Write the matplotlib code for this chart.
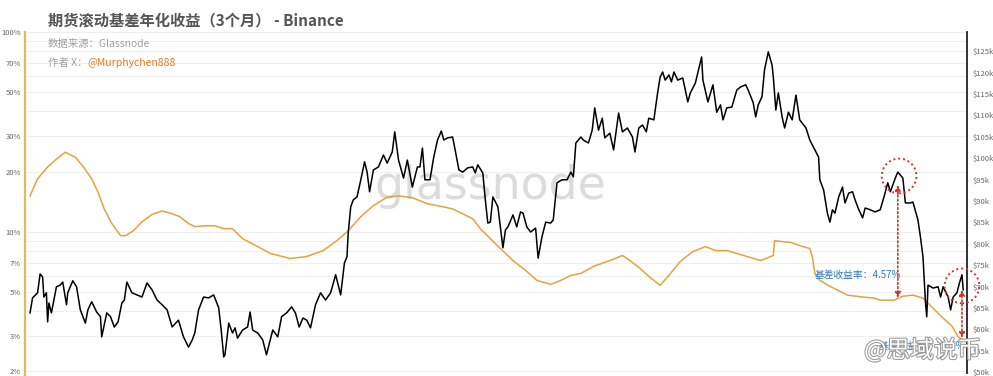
import matplotlib
matplotlib.use("Agg")
from matplotlib import pyplot as plt
from matplotlib import patheffects
from matplotlib.ticker import FixedLocator, NullFormatter
import numpy as np
import pandas as pd

plt.rcParams['font.family'] = ['Noto Sans CJK SC', 'DejaVu Sans']

start_date = pd.Timestamp('2024-02-27')

# BTC price (k USD), day offset from start_date
price_day = [0, 2, 6, 8, 10, 11, 13, 14, 15, 17, 21, 24, 26, 29, 30, 34, 37, 40, 44, 46,
             49, 53, 56, 57, 61, 64, 67, 70, 73, 75, 77, 81, 85, 89, 93, 97, 101, 105, 109, 113,
             118, 122, 126, 129, 131, 134, 138, 142, 146, 150, 152, 154, 155, 158, 161, 163, 165, 169, 173, 175,
             177, 181, 185, 188, 191, 193, 197, 200, 204, 208, 211, 214, 217, 220, 223, 227, 231, 235, 239, 243,
             247, 250, 252, 253, 255, 257, 260, 263, 266, 268, 270, 273, 277, 281, 284, 288, 290, 293, 297, 300,
             304, 308, 310, 312, 314, 318, 321, 324, 327, 329, 332, 336, 338, 341, 344, 348, 352, 354, 356, 360,
             362, 364, 366, 368, 372, 374, 376, 378, 380, 384, 387, 390, 392, 395, 398, 402, 404, 407, 410, 414,
             416, 419, 423, 427, 430, 432, 434, 438, 440, 444, 447, 449, 452, 455, 457, 461, 464, 468, 471, 475,
             479, 481, 484, 487, 490, 492, 496, 499, 501, 503, 505, 508, 510, 512, 515, 519, 523, 525, 529, 531,
             534, 535, 539, 543, 546, 549, 551, 554, 558, 562, 565, 569, 571, 575, 577, 579, 582, 584, 587, 590,
             591, 593, 595, 598, 600, 603, 606, 609, 612, 617, 620, 624, 627, 628, 631, 634, 636, 638, 640, 643,
             646, 648, 651, 654, 656, 659, 662, 664, 668, 672, 676, 679, 682, 684, 688, 690, 694, 696, 700, 702,
             706, 708, 710, 712, 713, 714, 718, 722, 724, 726, 730, 732, 734, 737, 739, 741, 742]
price_k = [63.8, 67.3, 68.5, 72.9, 72.2, 67.5, 68.5, 61.7, 66.1, 63.8, 69.9, 70.3, 71.0, 65.7, 68.5, 71.3, 69.9, 64.5, 61.4, 64.5,
           66.4, 64.0, 62.9, 58.2, 63.8, 62.9, 60.5, 61.7, 66.1, 66.8, 71.0, 68.5, 68.0, 67.5, 70.8, 69.2, 66.8, 65.7, 64.5, 60.5,
           62.1, 58.2, 55.8, 57.5, 59.1, 64.5, 67.5, 67.3, 68.0, 65.0, 59.8, 53.5, 54.0, 61.4, 59.1, 60.3, 57.9, 59.8, 60.5, 64.0,
           59.8, 59.1, 57.5, 54.0, 57.5, 59.8, 58.2, 62.9, 63.8, 65.2, 63.8, 60.5, 62.6, 62.1, 60.3, 65.7, 68.5, 66.8, 68.5, 72.7,
           68.0, 75.5, 76.9, 82.5, 88.6, 90.2, 90.9, 94.9, 99.1, 96.7, 92.1, 97.2, 97.9, 100.7, 98.8, 101.4, 106.1, 99.5, 95.3, 99.5,
           93.2, 97.9, 97.9, 102.3, 94.9, 94.9, 100.2, 104.2, 106.3, 104.2, 104.7, 104.9, 101.9, 97.2, 96.7, 97.7, 97.9, 96.5, 98.4, 96.5,
           90.2, 84.8, 85.0, 90.9, 88.6, 83.9, 79.0, 83.2, 83.9, 86.7, 83.9, 87.4, 87.1, 83.9, 82.7, 83.6, 76.6, 81.5, 85.0, 84.8,
           85.5, 94.2, 94.9, 94.9, 96.7, 95.6, 103.5, 104.9, 104.2, 103.5, 106.5, 111.7, 106.5, 109.3, 104.7, 105.8, 101.9, 110.5, 106.1, 107.0,
           104.9, 101.4, 107.0, 107.7, 106.1, 109.3, 108.9, 115.2, 118.9, 120.1, 118.2, 119.4, 117.8, 120.1, 118.2, 118.7, 113.1, 115.2, 117.5, 119.9,
           123.6, 118.2, 113.1, 117.1, 110.7, 112.4, 108.9, 111.7, 111.9, 115.9, 116.6, 117.1, 115.9, 112.9, 109.6, 112.4, 114.3, 120.6, 124.8, 121.7,
           118.9, 111.2, 115.2, 109.6, 107.0, 110.7, 108.9, 114.7, 108.9, 107.0, 104.2, 101.9, 100.2, 94.9, 92.5, 87.1, 85.0, 87.9, 87.1, 90.9,
           93.2, 89.5, 91.8, 92.1, 90.2, 87.9, 86.0, 88.3, 87.9, 87.4, 87.9, 90.9, 94.2, 92.1, 95.3, 96.7, 95.3, 89.5, 89.5, 89.7,
           85.5, 81.5, 76.9, 66.1, 62.9, 70.3, 69.6, 69.9, 67.5, 69.9, 67.5, 64.5, 67.5, 68.5, 70.8, 72.7, 69.2]

# 3-month rolling basis, annualised (%)
basis_day = [0, 6, 14, 21, 28, 36, 42, 49, 54, 59, 65, 72, 76, 82, 89, 97, 105, 113, 119, 126,
             131, 139, 147, 154, 161, 169, 181, 191, 207, 220, 233, 244, 253, 263, 273, 284, 293, 304, 316, 329,
             336, 344, 352, 358, 366, 374, 384, 395, 403, 414, 422, 430, 438, 448, 461, 471, 477, 485, 492, 497,
             501, 508, 517, 527, 537, 545, 554, 562, 570, 581, 587, 591, 592, 598, 605, 612, 620, 622, 624, 628,
             636, 650, 663, 671, 676, 687, 694, 702, 710, 718, 726, 733, 738, 741]
basis_pct = [15.1, 18.4, 21.1, 23.1, 25.0, 23.6, 21.3, 18.4, 15.8, 13.0, 11.0, 9.55, 9.55, 10.1, 11.2, 12.2, 12.7, 12.3, 11.9, 11.0,
             10.6, 10.7, 10.7, 10.35, 10.35, 9.23, 8.42, 7.78, 7.34, 7.51, 8.04, 9.02, 10.1, 11.9, 13.5, 14.9, 15.1, 14.8, 13.8, 13.3,
             13.0, 12.3, 11.6, 10.35, 9.23, 8.23, 7.17, 6.32, 5.70, 5.45, 5.70, 6.04, 6.18, 6.70, 7.17, 7.60, 7.17, 6.55, 5.97, 5.64,
             5.39, 6.04, 7.09, 7.95, 8.42, 8.04, 8.04, 7.78, 7.51, 7.17, 7.43, 7.60, 9.02, 8.92, 8.82, 8.52, 8.23, 7.51, 6.18, 5.70,
             5.33, 4.81, 4.70, 4.65, 4.54, 4.54, 4.75, 4.81, 4.65, 4.14, 3.69, 3.37, 2.97, 2.90]

left_ticks = [2, 3, 5, 7, 10, 20, 30, 50, 70, 100]
right_ticks = list(range(50, 130, 5))

price_dates = start_date + pd.to_timedelta(price_day, unit='D')
basis_dates = start_date + pd.to_timedelta(basis_day, unit='D')

fig = plt.figure(figsize=(9.93, 3.76), dpi=100)
ax = fig.add_axes([25 / 993, 3 / 376, 942 / 993, 341 / 376])
ax2 = ax.twinx()

# basis line (log, left)
ax.plot(basis_dates, basis_pct, color='#e8a13c', lw=1.1, zorder=3)
ax.set_yscale('log')
ax.set_ylim(1.96, 100)
ax.yaxis.set_major_locator(FixedLocator(left_ticks))
ax.set_yticklabels([f'{t}%' for t in left_ticks])
ax.yaxis.set_minor_locator(FixedLocator([2, 3, 4, 5, 6, 7, 8, 9, 10, 20, 30, 40, 50, 60, 70, 80, 90]))
ax.yaxis.set_minor_formatter(NullFormatter())
ax.grid(True, which='both', axis='y', color='#efefef', lw=0.8)
ax.set_axisbelow(True)
ax.set_xlim(start_date - pd.Timedelta(days=4), start_date + pd.Timedelta(days=745))
ax.set_xticks([])
ax.tick_params(axis='y', which='both', length=0, labelsize=5.5, labelcolor='#666666', pad=3)

ax.text(0.494, 0.547, 'glassnode', transform=ax.transAxes, fontsize=33, color='#dcdcdc',
        family='DejaVu Sans', ha='center', va='center', zorder=1)

# BTC price (right)
ax2.plot(price_dates, price_k, color='black', lw=1.1, zorder=3)
ax2.set_ylim(49.75, 129.44)
ax2.set_yticks(right_ticks)
ax2.set_yticklabels([f'${t}k' for t in right_ticks])
ax2.tick_params(axis='y', length=0, labelsize=5.5, labelcolor='#666666', pad=4)

for a in (ax, ax2):
    for side in ('top', 'bottom', 'left', 'right'):
        a.spines[side].set_visible(False)
ax.spines['left'].set_visible(True)
ax.spines['left'].set_color('#e8b560')
ax.spines['left'].set_linewidth(1.6)
ax.spines['left'].set_bounds(1.85, 100)
ax2.spines['right'].set_visible(True)
ax2.spines['right'].set_color('#222222')
ax2.spines['right'].set_linewidth(1.3)

# annotations
red = '#d2332b'
arrow = dict(arrowstyle='<|-|>', color=red, lw=1.2, linestyle=(0, (1, 1.5)),
             mutation_scale=8, shrinkA=0, shrinkB=0)
d1 = start_date + pd.Timedelta(days=690)
d2 = start_date + pd.Timedelta(days=741)
ax2.annotate('', xy=(d1, 67.3), xytext=(d1, 93.7), arrowprops=arrow)
ax2.annotate('', xy=(d2, 57.9), xytext=(d2, 69.2), arrowprops=arrow)
ax2.scatter([start_date + pd.Timedelta(days=691), d2], [95.8, 70.1], s=25 ** 2,
            facecolors='none', edgecolors=red, linewidths=1.4, linestyle=(0, (1, 1.5)),
            zorder=5, clip_on=False)

ax2.text(start_date + pd.Timedelta(days=624), 72.7, '基差收益率：4.57%', color='#2f78c0',
         fontsize=7, fontstyle='italic', va='center', ha='left')
ax2.text(start_date + pd.Timedelta(days=675), 56.1, '基差收益率：2.62%', color='#2f78c0',
         fontsize=7, fontstyle='italic', va='center', ha='left')

# titles
fig.text(48 / 993, 1 - 20 / 376, '期货滚动基差年化收益（3个月） - Binance', fontsize=11,
         fontweight='bold', fontstyle='italic', color='#555555', va='center', ha='left')
fig.text(48 / 993, 1 - 44 / 376, '数据来源：Glassnode', fontsize=7.5, fontstyle='italic',
         color='#a0a0a0', va='center', ha='left')
t = fig.text(48 / 993, 1 - 63 / 376, '作者 X：', fontsize=7.5, fontstyle='italic',
             color='#a0a0a0', va='center', ha='left')
ax.annotate('@Murphychen888', xy=(1, 0.5), xycoords=t, fontsize=7.5, fontstyle='italic',
            color='#e8781e', va='center', ha='left', annotation_clip=False)

# weibo watermark
fig.text(0.988, 1 - 350 / 376, '@思域说币', fontsize=17, color='white', ha='right', va='center',
         path_effects=[patheffects.withStroke(linewidth=1.5, foreground='#9a9a9a')])

fig.savefig('out.png', dpi=100)
